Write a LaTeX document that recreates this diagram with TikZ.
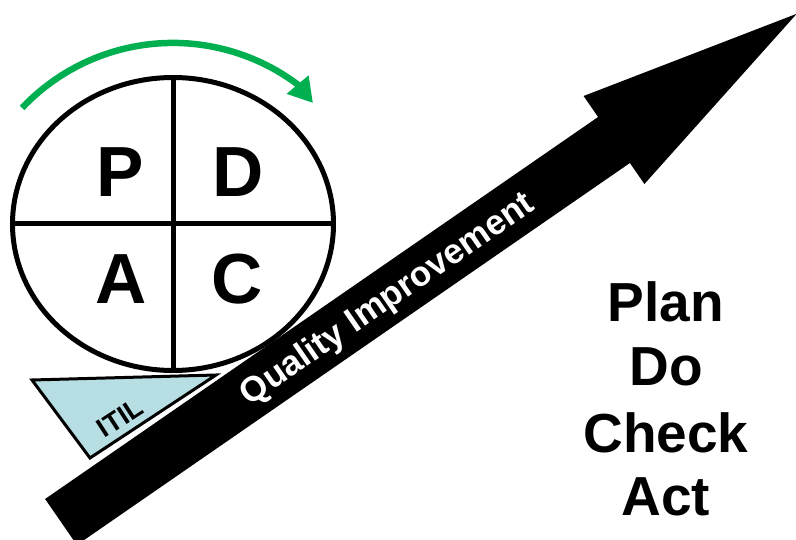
\documentclass[tikz,border=0pt]{standalone}
\usepackage{fontspec}
\setmainfont{Liberation Sans}
\usetikzlibrary{arrows.meta,shapes.geometric}
\definecolor{cyclegreen}{HTML}{00B050}
\definecolor{itilblue}{HTML}{B7DEE2}
\begin{document}
\begin{tikzpicture}[x=1pt,y=-1pt,
  quadletter/.style={font=\fontsize{71}{71}\selectfont\bfseries, inner sep=0pt},
  phaseword/.style={font=\fontsize{55}{55}\selectfont\bfseries, inner sep=0pt, anchor=base},
  ring/.style={line width=5pt},
]
\useasboundingbox (0,0) rectangle (796,540);
\clip (0,0) rectangle (796,540);

% ITIL wedge under the cycle
\draw[line width=3pt, fill=itilblue, line join=miter]
  (32,380) -- (216,375) -- (90,458) -- cycle;
\node[rotate=33, font=\fontsize{27}{27}\selectfont\bfseries, inner sep=0pt]
  (itil) at (120,418) {ITIL};

% PDCA circle split into quadrants
\node[ellipse, draw, fill=white, ring, minimum width=321pt, minimum height=293pt,
      inner sep=0pt, outer sep=0pt] (pdca) at (173,224) {};
\draw[ring] (pdca.north) -- (pdca.south);
\draw[ring] (pdca.west) -- (pdca.east);
\node[quadletter] (plet) at (120,172) {P};
\node[quadletter] (dlet) at (238,172) {D};
\node[quadletter] (alet) at (121,279) {A};
\node[quadletter] (clet) at (237,279) {C};

% green rotation arrow above the circle
\coordinate (turnhead) at (313,103);
\draw[cyclegreen, line width=6.5pt, -{Triangle[length=24pt,width=27pt]}]
  plot[domain=-136.6:-53.3, samples=50, variable=\t]
    ({173+207.7*cos(\t)}, {250.6+207.7*sin(\t)}) -- (turnhead);

% rising improvement arrow
\coordinate (tailtop) at (45.1,499);
\coordinate (tailbot) at (76.9,545);
\coordinate (tip) at (796.7,13.8);
\fill (tailtop) -- (598.1,117) -- (583.6,96) -- (tip) -- (644.4,184)
  -- (629.9,163) -- (tailbot) -- cycle;
\node[rotate=34.6, anchor=base, text=white, inner sep=0pt,
      font=\fontsize{35}{35}\selectfont\bfseries] (quality) at (393,307.5)
  {Quality Improvement};

% cycle steps
\node[phaseword] (plan)  at (666,322) {Plan};
\node[phaseword] (do)    at (666,385) {Do};
\node[phaseword] (check) at (666,452) {Check};
\node[phaseword] (act)   at (666,515) {Act};
\end{tikzpicture}
\end{document}
